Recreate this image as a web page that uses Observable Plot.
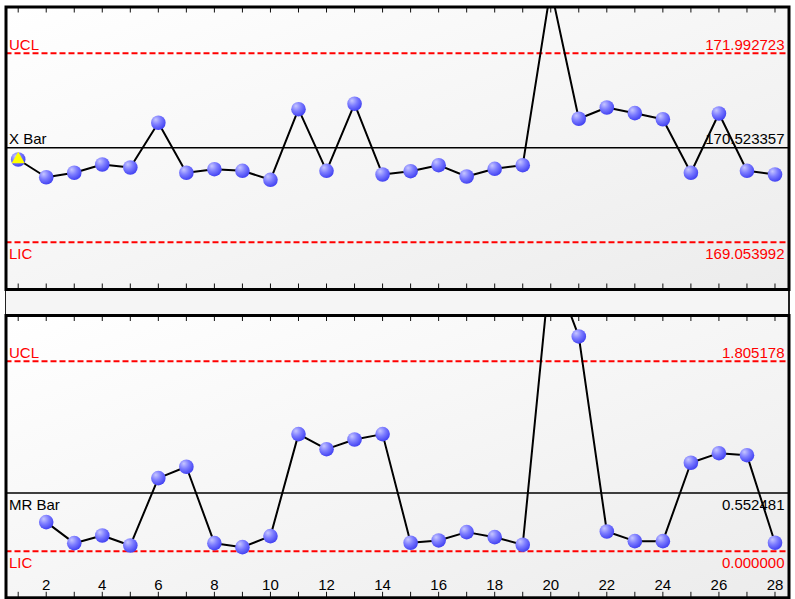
<!DOCTYPE html>
<html>
<head>
<meta charset="utf-8">
<script src="https://cdn.jsdelivr.net/npm/d3@7"></script>
<script src="https://cdn.jsdelivr.net/npm/@observablehq/plot@0.6"></script>
<style>
  body { margin: 0; background: #ffffff; }
  #wrap { position: relative; width: 795px; height: 599px; overflow: hidden; background: #ffffff; }
  #gap { position: absolute; left: 5px; top: 289px; width: 782px; height: 25px; background: #f5f5f5;
         border-left: 1px solid #222; border-right: 2px solid #222; }
</style>
</head>
<body>
<div id="wrap"><div id="gap"></div></div>
<script>
// ---------- data ----------
const samples = [1, 2, 3, 4, 5, 6, 7, 8, 9, 10, 11, 12, 13, 14, 15, 16, 17, 18, 19, 20, 21, 22, 23, 24, 25, 26, 27, 28];
const xbarValues = [170.340, 170.064, 170.133, 170.262, 170.215, 170.911, 170.133, 170.189, 170.164, 170.024,
                    171.122, 170.164, 171.206, 170.106, 170.158, 170.251, 170.075, 170.195, 170.251, 173.000,
                    170.973, 171.148, 171.060, 170.966, 170.133, 171.055, 170.164, 170.106];
const mrSamples = [2, 3, 4, 5, 6, 7, 8, 9, 10, 11, 12, 13, 14, 15, 16, 17, 18, 19, 20, 21, 22, 23, 24, 25, 26, 27, 28];
const mrValues = [0.276, 0.076, 0.149, 0.054, 0.694, 0.802, 0.076, 0.038, 0.143, 1.112,
                  0.969, 1.061, 1.112, 0.080, 0.102, 0.181, 0.133, 0.061, 2.750, 2.040,
                  0.187, 0.095, 0.095, 0.840, 0.931, 0.912, 0.080];
const tickLabels = [2, 4, 6, 8, 10, 12, 14, 16, 18, 20, 22, 24, 26, 28];
const xLimitNames = ["UCL", "X Bar", "LIC"];
const xLimitValues = [171.992723, 170.523357, 169.053992];
const mrLimitNames = ["UCL", "MR Bar", "LIC"];
const mrLimitValues = [1.805178, 0.552481, 0.000000];
const flaggedSamples = [1];

// ---------- tables built from the arrays ----------
const fmt = d3.format(".6f");
const xData = samples.map((s, i) => ({s, v: xbarValues[i]}));
const mrData = mrSamples.map((s, i) => ({s, v: mrValues[i]}));
const xLimits = xLimitNames.map((name, i) => ({name, v: xLimitValues[i], center: i === 1}));
const mrLimits = mrLimitNames.map((name, i) => ({name, v: mrLimitValues[i], center: i === 1}));

const RED = "#ff0000";
const FONT = "'Liberation Sans', Arial, Helvetica, sans-serif";

function limitTexts(rows, dy) {
  const out = [];
  const groups = [[rows.filter(d => !d.center), RED], [rows.filter(d => d.center), "#000000"]];
  for (const [g, color] of groups) {
    if (!g.length) continue;
    out.push(Plot.text(g, {y: "v", text: "name", frameAnchor: "left", textAnchor: "start",
      lineAnchor: "bottom", dx: 3, dy, fill: color, fontSize: 15}));
    out.push(Plot.text(g, {y: "v", text: d => fmt(d.v), frameAnchor: "right", textAnchor: "end",
      lineAnchor: "bottom", dx: -4.5, dy, fill: color, fontSize: 15}));
  }
  return out;
}

function panel({data, limits, belowNames, yDomain, height, marginTop, marginBottom, idp, withLabels, flagged}) {
  const above = limits.filter(d => !belowNames.includes(d.name));
  const below = limits.filter(d => belowNames.includes(d.name));
  const marks = [
    Plot.frame({fill: `url(#${idp}bg)`}),
    Plot.ruleY(limits.filter(d => !d.center), {y: "v", stroke: RED, strokeWidth: 2, strokeDasharray: "6,3"}),
    Plot.ruleY(limits.filter(d => d.center), {y: "v", stroke: "#000000", strokeWidth: 1.5}),
    ...limitTexts(above, -3.5),
    ...limitTexts(below, 17),
    Plot.axisX({anchor: "top", ticks: samples, tickSize: -5, fill: "none", label: null, stroke: "#111"}),
    Plot.axisX({anchor: "bottom", ticks: samples, tickSize: -5.5, fill: "none", label: null, stroke: "#111"}),
    Plot.line(data, {x: "s", y: "v", stroke: "#000000", strokeWidth: 2, clip: true}),
    Plot.dot(data, {x: "s", y: "v", r: 7.3, fill: `url(#${idp}ball)`, stroke: "none", clip: true})
  ];
  if (flagged) {
    marks.push(Plot.dot(data.filter(d => flagged.includes(d.s)),
      {x: "s", y: "v", symbol: "triangle", r: 4.9, fill: "#ffff00", stroke: "none", clip: true}));
  }
  if (withLabels) {
    marks.push(Plot.text(tickLabels, {x: d => d, text: d => String(d), frameAnchor: "bottom",
      lineAnchor: "bottom", dy: -8, fill: "#000000", fontSize: 15}));
  }
  marks.push(Plot.frame({stroke: "#000000", strokeWidth: 3}));
  const svg = Plot.plot({
    width: 795, height,
    marginLeft: 5.5, marginRight: 6.5, marginTop, marginBottom,
    x: {domain: [0.565, 28.5], label: null},
    y: {domain: yDomain, axis: null},
    style: {fontFamily: FONT, fontSize: "15px", background: "transparent", overflow: "visible"},
    marks
  });
  const defs = d3.select(svg).insert("defs", ":first-child");
  const rg = defs.append("radialGradient").attr("id", idp + "ball")
    .attr("cx", "38%").attr("cy", "32%").attr("r", "68%").attr("fx", "32%").attr("fy", "28%");
  rg.append("stop").attr("offset", "0%").attr("stop-color", "#c6c6ff");
  rg.append("stop").attr("offset", "50%").attr("stop-color", "#7c7cff");
  rg.append("stop").attr("offset", "100%").attr("stop-color", "#4343f2");
  const lg = defs.append("linearGradient").attr("id", idp + "bg")
    .attr("x1", 0).attr("y1", 0).attr("x2", 1).attr("y2", 1);
  lg.append("stop").attr("offset", "0%").attr("stop-color", "#ffffff");
  lg.append("stop").attr("offset", "100%").attr("stop-color", "#ececec");
  return svg;
}

const wrap = document.getElementById("wrap");

const topSvg = panel({
  data: xData, limits: xLimits, belowNames: ["LIC"],
  yDomain: [168.318, 172.711], height: 291, marginTop: 6.5, marginBottom: 2,
  idp: "t", withLabels: false, flagged: flaggedSamples
});
topSvg.style.position = "absolute"; topSvg.style.left = "0px"; topSvg.style.top = "0px";
wrap.appendChild(topSvg);

const bottomSvg = panel({
  data: mrData, limits: mrLimits, belowNames: ["MR Bar", "LIC"],
  yDomain: [-0.443, 2.239], height: 309, marginTop: 25, marginBottom: 1.7,
  idp: "b", withLabels: true, flagged: null
});
bottomSvg.style.position = "absolute"; bottomSvg.style.left = "0px"; bottomSvg.style.top = "290px";
wrap.appendChild(bottomSvg);
</script>
</body>
</html>
